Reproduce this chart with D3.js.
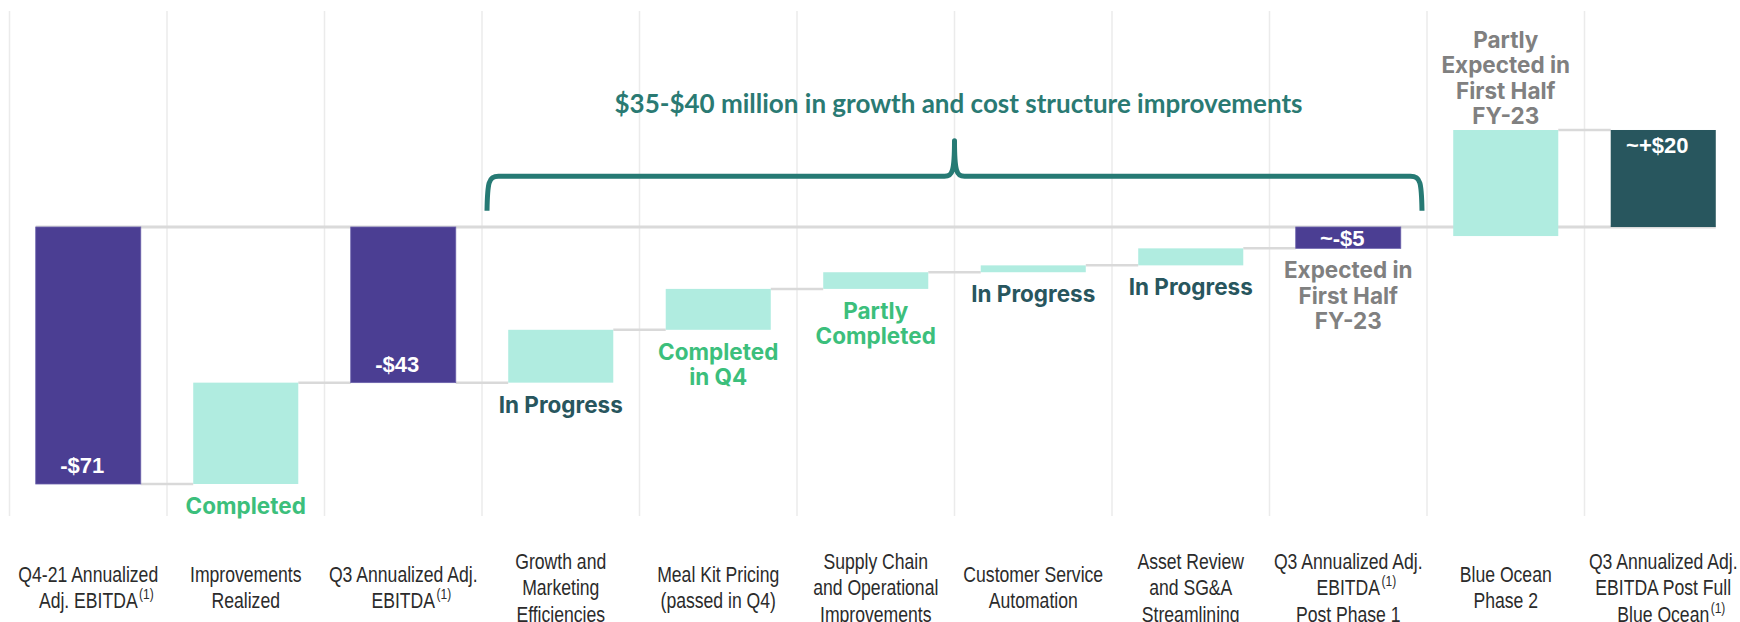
<!DOCTYPE html>
<html>
<head>
<meta charset="utf-8">
<script src="https://cdn.jsdelivr.net/npm/d3@7"></script>
<style>
  body { margin: 0; background: #fff; }
</style>
</head>
<body>
<div id="chart"></div>
<script>
// categories along the x axis
const categories = [
    "Q4-21 Annualized Adj. EBITDA", "Improvements Realized", "Q3 Annualized Adj. EBITDA",
    "Growth and Marketing Efficiencies", "Meal Kit Pricing (passed in Q4)",
    "Supply Chain and Operational Improvements", "Customer Service Automation",
    "Asset Review and SG&A Streamlining", "Q3 Annualized Adj. EBITDA Post Phase 1",
    "Blue Ocean Phase 2", "Q3 Annualized Adj. EBITDA Post Full Blue Ocean"
];
// tick labels, line by line
const tickLines = [
    ["Q4-21 Annualized", "Adj. EBITDA"],
    ["Improvements", "Realized"],
    ["Q3 Annualized Adj.", "EBITDA"],
    ["Growth and", "Marketing", "Efficiencies"],
    ["Meal Kit Pricing", "(passed in Q4)"],
    ["Supply Chain", "and Operational", "Improvements"],
    ["Customer Service", "Automation"],
    ["Asset Review", "and SG&A", "Streamlining"],
    ["Q3 Annualized Adj.", "EBITDA", "Post Phase 1"],
    ["Blue Ocean", "Phase 2"],
    ["Q3 Annualized Adj.", "EBITDA Post Full", "Blue Ocean"]
];
// which tick line carries the "(1)" footnote marker (-1 = none)
const tickNote = [1, -1, 1, -1, -1, -1, -1, -1, 1, -1, 2];

// bar start / end values ($M, as drawn)
const barStart = [0, -71, 0, -43, -28.4, -17.1, -12.5, -10.6, 0, -2.5, 0];
const barEnd = [-71, -43, -43, -28.4, -17.1, -12.5, -10.6, -5.9, -5.9, 26.8, 26.8];
const barType = ["loss", "gain", "loss", "gain", "gain", "gain", "gain", "gain", "loss", "gain", "result"];
const valueLabels = ["-$71", "", "-$43", "", "", "", "", "", "~-$5", "", "~+$20"];

// status notes per bar
const statusLines = [
    [], ["Completed"], [], ["In Progress"], ["Completed", "in Q4"], ["Partly", "Completed"],
    ["In Progress"], ["In Progress"], ["Expected in", "First Half", "FY-23"],
    ["Partly", "Expected in", "First Half", "FY-23"], []
];
const statusTone = ["", "done", "", "progress", "done", "done", "progress", "progress", "expected", "expected", ""];

const bracketTitle = "$35-$40 million in growth and cost structure improvements";

const barColor = { loss: "#4b3e93", gain: "#b0ece0", result: "#28565e" };
const toneColor = { done: "#3cbf7c", progress: "#28565e", expected: "#808080" };

const width = 1740, height = 622;

const svg = d3.select("#chart")
    .append("svg")
    .attr("width", width)
    .attr("height", height)
    .style("font-family", "'Liberation Sans', Arial, sans-serif");

const x = d3.scaleBand()
    .domain(categories)
    .range([9.5, 9.5 + 11 * 157.5])
    .paddingInner(0.333)
    .paddingOuter(0.1665);

const y = d3.scaleLinear()
    .domain([-71, 0])
    .range([484, 227]);

const step = x.step();
const gridX = d => x(d) - step * x.paddingInner() / 2;
const centerX = d => x(d) + x.bandwidth() / 2;

// vertical grid lines
svg.append("g")
    .selectAll("line")
    .data(categories)
    .join("line")
    .attr("x1", gridX)
    .attr("x2", gridX)
    .attr("y1", 11)
    .attr("y2", 516)
    .attr("stroke", "#ebebeb")
    .attr("stroke-width", 1.5);

// zero line across the whole chart
svg.append("line")
    .attr("x1", x(categories[0]))
    .attr("x2", x(categories[categories.length - 1]) + x.bandwidth())
    .attr("y1", y(0))
    .attr("y2", y(0))
    .attr("stroke", "#dadada")
    .attr("stroke-width", 3);

// connectors between bars
const links = [];
for (let i = 0; i < categories.length - 1; i++) {
    const lvl = barEnd[i];
    if (lvl !== 0 && (lvl === barStart[i + 1] || lvl === barEnd[i + 1])) {
        links.push({ from: categories[i], to: categories[i + 1], v: lvl });
    }
}
svg.append("g")
    .selectAll("line")
    .data(links)
    .join("line")
    .attr("x1", d => x(d.from) + x.bandwidth())
    .attr("x2", d => x(d.to))
    .attr("y1", d => y(d.v))
    .attr("y2", d => y(d.v))
    .attr("stroke", "#d9d9d9")
    .attr("stroke-width", 2.5);

// bars
const bars = categories.map((c, i) => ({
    cat: c, start: barStart[i], end: barEnd[i], type: barType[i],
    label: valueLabels[i], status: statusLines[i], tone: statusTone[i],
    ticks: tickLines[i], note: tickNote[i]
}));

svg.append("g")
    .selectAll("rect")
    .data(bars)
    .join("rect")
    .attr("x", d => x(d.cat))
    .attr("width", x.bandwidth())
    .attr("y", d => y(Math.max(d.start, d.end)))
    .attr("height", d => Math.abs(y(d.start) - y(d.end)))
    .attr("fill", d => barColor[d.type])
    .attr("stroke", d => d.type === "loss" ? "#6a60ab" : "none")
    .attr("stroke-width", 0.8);

// value labels inside the total bars
svg.append("g")
    .selectAll("text")
    .data(bars.filter(d => d.label))
    .join("text")
    .attr("x", d => centerX(d.cat) - 6)
    .attr("y", d => {
        const top = y(Math.max(d.start, d.end)), bottom = y(Math.min(d.start, d.end));
        if (d.end < 0) return Math.max(bottom - 11, (top + bottom) / 2 + 8);
        return top + 23;
    })
    .attr("text-anchor", "middle")
    .attr("fill", "#fff")
    .style("font-size", "22px")
    .style("font-weight", "bold")
    .text(d => d.label);

// status notes
const lineGap = 25.3;
bars.filter(d => d.status.length).forEach(d => {
    const top = y(Math.max(d.start, d.end)), bottom = y(Math.min(d.start, d.end));
    const above = d.type === "gain" && d.end > 0;
    const first = above ? top - 6 - (d.status.length - 1) * lineGap : bottom + 30;
    const t = svg.append("text")
        .attr("text-anchor", "middle")
        .attr("fill", toneColor[d.tone])
        .style("font-family", "Inter, 'Open Sans', sans-serif")
        .style("font-weight", 700)
        .style("font-size", "22.5px");
    d.status.forEach((line, k) => {
        t.append("tspan")
            .attr("x", centerX(d.cat))
            .attr("y", first + k * lineGap)
            .text(line);
    });
});

// category tick labels (Arial squeezed to a narrow face)
const tickCenter = 595, tickGap = 26.5, squeeze = 0.8;
bars.forEach(d => {
    const first = tickCenter - (d.ticks.length - 1) * tickGap / 2;
    d.ticks.forEach((line, k) => {
        const ly = first + k * tickGap;
        const t = svg.append("text")
            .attr("transform", `translate(${centerX(d.cat)},${ly}) scale(${squeeze},1)`)
            .attr("text-anchor", "middle")
            .attr("fill", "#2b2b2b")
            .style("font-size", "22px")
            .text(line);
        if (k === d.note) {
            const w = t.node().getComputedTextLength() * squeeze;
            svg.append("text")
                .attr("transform", `translate(${centerX(d.cat) + w / 2 + 1.5},${ly - 9}) scale(${squeeze},1)`)
                .attr("fill", "#2b2b2b")
                .style("font-size", "15px")
                .text("(1)");
        }
    });
});

// bracket spanning the improvement steps
const bl = gridX(categories[3]) + 6.5,
    br = gridX(categories[9]) - 6.5,
    bc = gridX(categories[6]),
    bh = y(14), bf = y(4.5), bp = y(23.8), r = 10;
const bracket = d3.path();
bracket.moveTo(bl - 1.5, bf);
bracket.bezierCurveTo(bl - 1, bh + r * 0.6, bl, bh, bl + r, bh);
bracket.lineTo(bc - 10, bh);
bracket.bezierCurveTo(bc - 2, bh, bc, bh - 5, bc, bp);
bracket.bezierCurveTo(bc, bh - 5, bc + 2, bh, bc + 10, bh);
bracket.lineTo(br - r, bh);
bracket.bezierCurveTo(br, bh, br + 1, bh + r * 0.6, br + 1.5, bf);
svg.append("path")
    .attr("d", bracket.toString())
    .attr("fill", "none")
    .attr("stroke", "#267a74")
    .attr("stroke-width", 5)
    .attr("stroke-linejoin", "round");

svg.append("text")
    .attr("x", bc + 4)
    .attr("y", 113)
    .attr("text-anchor", "middle")
    .attr("fill", "#2a7a73")
    .style("font-family", "Lato, 'Open Sans', sans-serif")
    .style("font-weight", 700)
    .style("font-size", "26px")
    .text(bracketTitle);
</script>
</body>
</html>
